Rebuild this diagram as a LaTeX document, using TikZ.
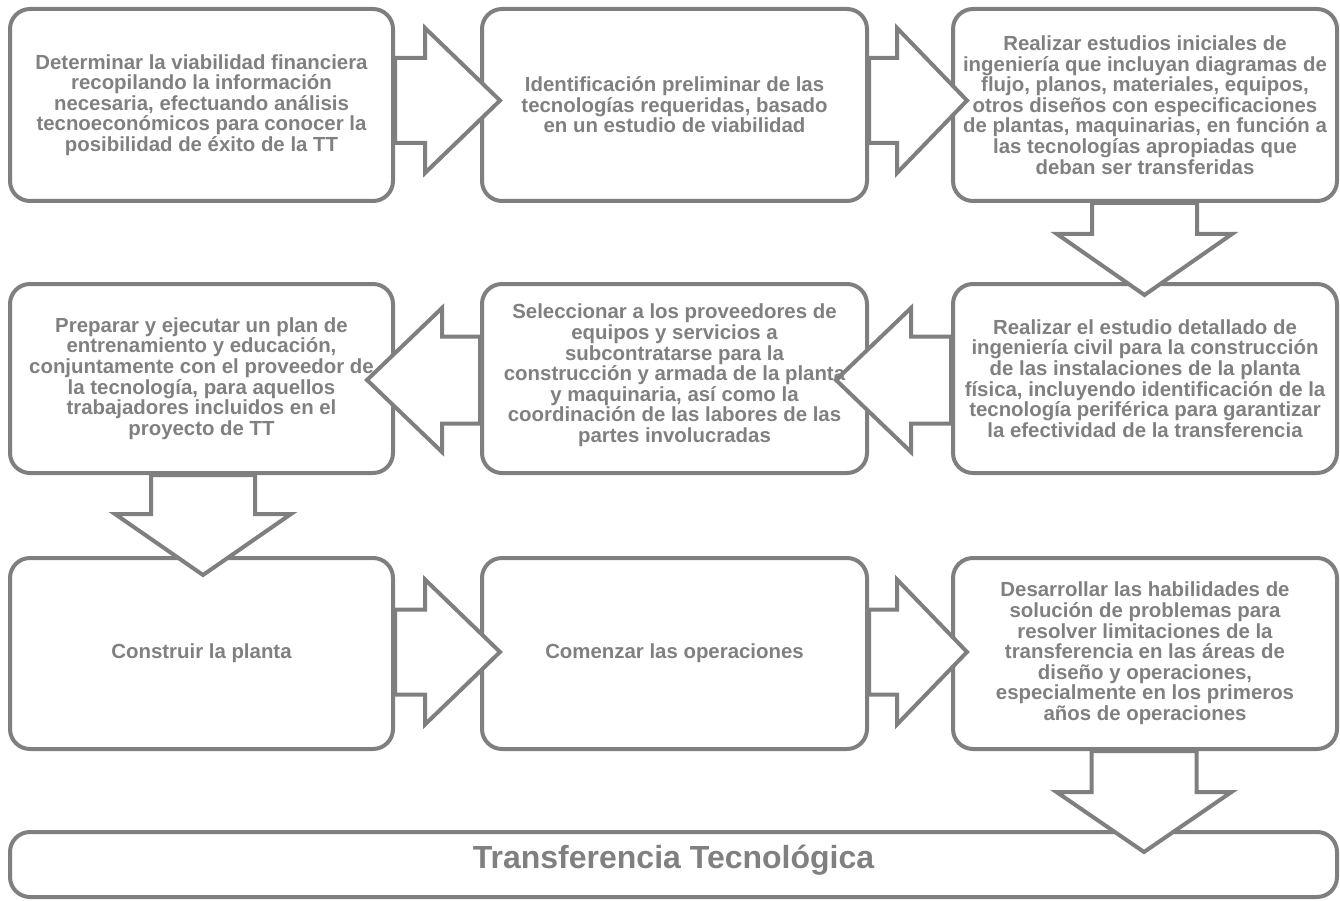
\documentclass[tikz,border=0pt]{standalone}
\usepackage{fontspec}
\setmainfont{Liberation Sans}
\usetikzlibrary{calc}
\definecolor{lg}{HTML}{7F7F7F}
\definecolor{tg}{HTML}{808080}
\begin{document}
\begin{tikzpicture}[x=1pt,y=-1pt,
  box/.style={draw=lg, line width=4pt, rounded corners=20pt, fill=white, inner sep=0pt},
  blk/.style={draw=lg, line width=4pt, fill=white, line join=miter},
  txt/.style={text=tg, font=\bfseries\fontsize{20.4}{20.6}\selectfont, align=center, inner sep=0pt},
  ttl/.style={text=tg, font=\bfseries\fontsize{32}{36}\selectfont, align=center, inner sep=0pt},
]
\useasboundingbox (0,0) rectangle (1340,901);

% boxes
\node[box, minimum width=383pt, minimum height=192pt] (b1) at (201.5,105) {};
\node[box, minimum width=385pt, minimum height=192pt] (b2) at (674.5,105) {};
\node[box, minimum width=384pt, minimum height=192pt] (b3) at (1145,105) {};
\node[box, minimum width=383pt, minimum height=189pt] (b4) at (201.5,378.5) {};
\node[box, minimum width=385pt, minimum height=189pt] (b5) at (674.5,378.5) {};
\node[box, minimum width=384pt, minimum height=189pt] (b6) at (1145,378.5) {};
\node[box, minimum width=383pt, minimum height=191pt] (b7) at (201.5,653.5) {};
\node[box, minimum width=385pt, minimum height=191pt] (b8) at (674.5,653.5) {};
\node[box, minimum width=384pt, minimum height=191pt] (b9) at (1145,653.5) {};
\node[box, minimum width=1327pt, minimum height=65pt] (b10) at (673.5,864.5) {};

% block arrows
\coordinate (o1) at ($(b1.east)+(0,-4.5)$);
\coordinate (o2) at ($(b2.east)+(0,-4.5)$);
\coordinate (o3) at ($(b3.south)+(-0.5,0)$);
\coordinate (o4) at ($(b6.west)+(0,1.5)$);
\coordinate (o5) at ($(b5.west)+(0,1.5)$);
\coordinate (o6) at ($(b4.south)+(1.5,0)$);
\coordinate (o7) at ($(b7.east)+(0,-1.5)$);
\coordinate (o8) at ($(b8.east)+(0,-1.5)$);
\coordinate (o9) at ($(b9.south)+(-1,0)$);

\draw[blk] (o1) ++(0,-42.5) -- ++(30,0) -- ++(0,-30) -- ++(75,72.5) -- ++(-75,72.5) -- ++(0,-30) -- ++(-30,0) -- cycle;
\draw[blk] (o2) ++(0,-42.5) -- ++(28,0) -- ++(0,-30) -- ++(70,72.5) -- ++(-70,72.5) -- ++(0,-30) -- ++(-28,0) -- cycle;
\draw[blk] (o3) ++(-52.5,0) -- ++(0,31) -- ++(-35,0) -- ++(87.5,61) -- ++(87.5,-61) -- ++(-35,0) -- ++(0,-31) -- cycle;
\draw[blk] (o4) ++(0,-43.5) -- ++(-40,0) -- ++(0,-28.5) -- ++(-75,72) -- ++(75,72) -- ++(0,-28.5) -- ++(40,0) -- cycle;
\draw[blk] (o5) ++(0,-43.5) -- ++(-38,0) -- ++(0,-28.5) -- ++(-75,72) -- ++(75,72) -- ++(0,-28.5) -- ++(38,0) -- cycle;
\draw[blk] (o6) ++(-52,0) -- ++(0,39) -- ++(-36,0) -- ++(88,61) -- ++(88,-61) -- ++(-36,0) -- ++(0,-39) -- cycle;
\draw[blk] (o7) ++(0,-42.5) -- ++(30,0) -- ++(0,-30) -- ++(75,72.5) -- ++(-75,72.5) -- ++(0,-30) -- ++(-30,0) -- cycle;
\draw[blk] (o8) ++(0,-42.5) -- ++(28,0) -- ++(0,-30) -- ++(70,72.5) -- ++(-70,72.5) -- ++(0,-30) -- ++(-28,0) -- cycle;
\draw[blk] (o9) ++(-52.5,0) -- ++(0,41) -- ++(-35,0) -- ++(87.5,60) -- ++(87.5,-60) -- ++(-35,0) -- ++(0,-41) -- cycle;

% texts
\node[txt] (t1) at (b1.center) {Determinar la viabilidad financiera\\recopilando la información\\necesaria, efectuando análisis\\tecnoeconómicos para conocer la\\posibilidad de éxito de la TT};
\node[txt] (t2) at (b2.center) {Identificación preliminar de las\\tecnologías requeridas, basado\\en un estudio de viabilidad};
\node[txt] (t3) at (b3.center) {Realizar estudios iniciales de\\ingeniería que incluyan diagramas de\\flujo, planos, materiales, equipos,\\otros diseños con especificaciones\\de plantas, maquinarias, en función a\\las tecnologías apropiadas que\\deban ser transferidas};
\node[txt] (t4) at (b4.center) {Preparar y ejecutar un plan de\\entrenamiento y educación,\\conjuntamente con el proveedor de\\la tecnología, para aquellos\\trabajadores incluidos en el\\proyecto de TT};
\node[txt] (t5) at ($(b5.center)+(0,-3)$) {Seleccionar a los proveedores de\\equipos y servicios a\\subcontratarse para la\\construcción y armada de la planta\\y maquinaria, así como la\\coordinación de las labores de las\\partes involucradas};
\node[txt] (t6) at (b6.center) {Realizar el estudio detallado de\\ingeniería civil para la construcción\\de las instalaciones de la planta\\física, incluyendo identificación de la\\tecnología periférica para garantizar\\la efectividad de la transferencia};
\node[txt] (t7) at (b7.center) {Construir la planta};
\node[txt] (t8) at (b8.center) {Comenzar las operaciones};
\node[txt] (t9) at (b9.center) {Desarrollar las habilidades de\\solución de problemas para\\resolver limitaciones de la\\transferencia en las áreas de\\diseño y operaciones,\\especialmente en los primeros\\años de operaciones};
\node[ttl] (t10) at ($(b10.center)+(0,-4)$) {Transferencia Tecnológica};
\end{tikzpicture}
\end{document}
